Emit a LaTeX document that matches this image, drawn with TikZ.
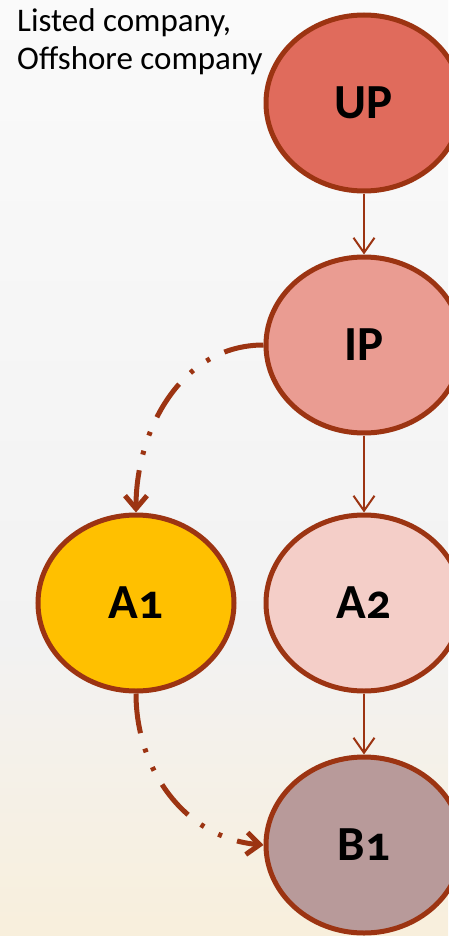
\documentclass[tikz,border=0pt]{standalone}
\usepackage{fontspec}
\setmainfont{Carlito}[Numbers=OldStyle]
\usepackage{xcolor}
\usetikzlibrary{shapes.geometric,arrows.meta}

\definecolor{rim}{HTML}{9C3412}
\definecolor{upfill}{HTML}{E06B5C}
\definecolor{ipfill}{HTML}{EA9C92}
\definecolor{atwofill}{HTML}{F4CEC8}
\definecolor{aonefill}{HTML}{FFC000}
\definecolor{bonefill}{HTML}{B89A9A}
\definecolor{bgtop}{HTML}{FAFAFA}
\definecolor{bgmid}{HTML}{F2F2F2}
\definecolor{bgbottom}{HTML}{F8EFDC}

\tikzset{
    company/.style = {ellipse, draw=rim, line width=5pt, minimum width=196pt,
        minimum height=176pt, inner sep=0pt,
        font=\bfseries\fontsize{49}{49}\selectfont},
    holds/.style = {draw=rim, line width=2pt,
        -{Straight Barb[length=15pt, width=21pt]}},
    indirect/.style = {draw=rim, line width=5pt,
        dash pattern=on 40pt off 16pt on 4pt off 16pt on 4pt off 16pt,
        -{Straight Barb[length=13pt, width=22pt]}}
}

\begin{document}
\begin{tikzpicture}[x = 1pt, y = -1pt]
        \useasboundingbox (0,0) rectangle (448,936);
        % background, gray fading into beige at the bottom
        \shade[top color=bgtop, bottom color=bgmid] (0,0) rectangle (448,641);
        \shade[top color=bgmid, bottom color=bgbottom] (0,640) rectangle (448,936);

        \node[anchor=north west, inner sep=0pt, align=left,
            font=\fontsize{33}{38}\selectfont] (note) at (17,8)
            {Listed company,\\Offshore company};

        \node[company, fill=upfill] (UP) at (364,103) {UP};
        \node[company, fill=ipfill] (IP) at (364,345) {IP};
        \node[company, fill=atwofill] (A2) at (364,603) {A2};
        \node[company, fill=aonefill] (A1) at (136,603) {A1};
        \node[company, fill=bonefill] (B1) at (364,845) {B1};

        \draw[holds] (UP) -- (IP);
        \draw[holds] (IP) -- (A2);
        \draw[holds] (A2) -- (B1);

        \draw[indirect] (IP.west) to[out=180, in=90] (A1.north);
        \draw[indirect] (A1.south) to[out=-90, in=175] (B1.west);

    \end{tikzpicture}
\end{document}
